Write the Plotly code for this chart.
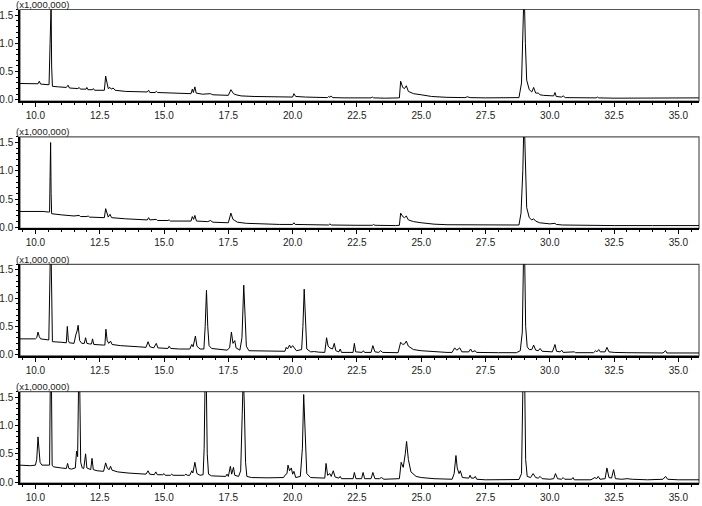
import plotly.graph_objects as go

# four GC-MS total ion chromatograms, stacked
# points are (retention time in min, intensity in x1,000,000 counts)

trace_a = [
    (9.40, 0.29), (9.70, 0.285), (10.00, 0.28), (10.10, 0.285), (10.15, 0.33), (10.20, 0.28),
    (10.45, 0.27), (10.53, 0.27), (10.57, 1.00), (10.59, 1.70), (10.61, 1.70), (10.63, 0.60),
    (10.66, 0.24), (10.90, 0.23), (11.20, 0.22), (11.27, 0.26), (11.32, 0.21), (11.65, 0.20),
    (11.70, 0.22), (11.75, 0.19), (11.97, 0.19), (12.00, 0.22), (12.04, 0.18), (12.22, 0.18),
    (12.25, 0.20), (12.30, 0.17), (12.68, 0.17), (12.73, 0.42), (12.78, 0.30), (12.83, 0.20),
    (12.90, 0.22), (12.95, 0.19), (13.02, 0.21), (13.10, 0.17), (13.50, 0.15), (14.00, 0.14),
    (14.35, 0.14), (14.40, 0.17), (14.45, 0.13), (14.65, 0.13), (14.70, 0.15), (14.75, 0.13),
    (15.20, 0.12), (15.60, 0.11), (16.05, 0.11), (16.10, 0.19), (16.14, 0.13), (16.20, 0.23),
    (16.25, 0.12), (16.50, 0.10), (16.80, 0.11), (16.90, 0.09), (17.50, 0.08), (17.60, 0.18),
    (17.70, 0.11), (17.80, 0.09), (18.00, 0.07), (18.50, 0.06), (19.00, 0.06), (19.50, 0.05),
    (20.00, 0.05), (20.05, 0.11), (20.12, 0.06), (20.50, 0.05), (21.00, 0.045), (21.35, 0.04),
    (21.40, 0.06), (21.45, 0.045), (21.50, 0.07), (21.55, 0.04), (22.00, 0.035), (22.50, 0.035),
    (23.05, 0.035), (23.10, 0.05), (23.15, 0.035), (23.60, 0.03), (24.00, 0.03), (24.15, 0.035),
    (24.20, 0.33), (24.28, 0.22), (24.35, 0.20), (24.42, 0.25), (24.50, 0.15), (24.70, 0.11),
    (25.00, 0.09), (25.40, 0.06), (26.00, 0.045), (26.70, 0.04), (26.80, 0.055), (26.90, 0.04),
    (27.50, 0.035), (28.50, 0.035), (28.80, 0.04), (28.90, 0.30), (28.95, 1.00), (29.00, 2.00),
    (29.05, 1.00), (29.10, 0.35), (29.20, 0.18), (29.30, 0.14), (29.37, 0.22), (29.45, 0.12),
    (29.55, 0.12), (29.62, 0.09), (29.75, 0.08), (30.00, 0.07), (30.15, 0.07), (30.20, 0.13),
    (30.25, 0.06), (30.45, 0.05), (30.52, 0.07), (30.60, 0.04), (31.00, 0.035), (31.80, 0.035),
    (31.85, 0.05), (31.90, 0.035), (32.50, 0.03), (33.50, 0.03), (34.50, 0.03), (35.80, 0.035),
]

trace_b = [
    (9.40, 0.28), (10.00, 0.285), (10.30, 0.28), (10.50, 0.27), (10.55, 0.27), (10.57, 0.90),
    (10.59, 1.50), (10.61, 0.60), (10.63, 0.24), (11.00, 0.22), (11.50, 0.20), (11.70, 0.21),
    (11.75, 0.19), (12.00, 0.19), (12.05, 0.20), (12.10, 0.18), (12.68, 0.17), (12.73, 0.33),
    (12.78, 0.25), (12.83, 0.18), (12.90, 0.23), (12.96, 0.17), (13.50, 0.15), (14.00, 0.14),
    (14.35, 0.13), (14.40, 0.17), (14.45, 0.13), (14.70, 0.14), (14.75, 0.12), (15.15, 0.12),
    (15.20, 0.13), (15.25, 0.11), (15.60, 0.11), (16.05, 0.11), (16.10, 0.19), (16.15, 0.14),
    (16.20, 0.21), (16.26, 0.11), (16.70, 0.10), (16.80, 0.12), (16.90, 0.09), (17.50, 0.08),
    (17.60, 0.25), (17.68, 0.14), (17.75, 0.12), (17.85, 0.09), (18.20, 0.07), (18.60, 0.06),
    (19.50, 0.05), (20.00, 0.05), (20.05, 0.08), (20.10, 0.05), (21.00, 0.045), (21.40, 0.04),
    (21.45, 0.06), (21.50, 0.04), (22.50, 0.035), (23.10, 0.035), (23.15, 0.05), (23.20, 0.035),
    (24.00, 0.03), (24.15, 0.035), (24.20, 0.25), (24.28, 0.19), (24.35, 0.17), (24.42, 0.20),
    (24.50, 0.13), (24.70, 0.10), (25.00, 0.08), (25.50, 0.055), (26.00, 0.045), (26.80, 0.04),
    (26.85, 0.05), (26.90, 0.04), (28.60, 0.035), (28.80, 0.04), (28.88, 0.25), (28.95, 1.00),
    (29.00, 2.00), (29.05, 1.00), (29.10, 0.35), (29.20, 0.17), (29.30, 0.13), (29.37, 0.15),
    (29.45, 0.11), (29.60, 0.08), (30.00, 0.06), (30.20, 0.07), (30.25, 0.05), (30.50, 0.04),
    (31.00, 0.035), (32.50, 0.03), (34.00, 0.03), (35.80, 0.03),
]

trace_c = [
    (9.40, 0.28), (10.00, 0.28), (10.05, 0.30), (10.10, 0.40), (10.15, 0.32), (10.20, 0.28),
    (10.52, 0.26), (10.56, 1.20), (10.58, 1.80), (10.61, 1.80), (10.63, 0.80), (10.66, 0.23),
    (11.00, 0.22), (11.20, 0.21), (11.24, 0.50), (11.28, 0.25), (11.32, 0.21), (11.50, 0.20),
    (11.57, 0.35), (11.62, 0.42), (11.66, 0.52), (11.72, 0.25), (11.80, 0.20), (11.90, 0.20),
    (11.95, 0.30), (12.00, 0.20), (12.10, 0.19), (12.18, 0.19), (12.22, 0.28), (12.27, 0.18),
    (12.65, 0.17), (12.70, 0.17), (12.74, 0.45), (12.79, 0.25), (12.85, 0.20), (12.92, 0.24),
    (12.98, 0.18), (13.30, 0.16), (14.00, 0.14), (14.30, 0.13), (14.38, 0.23), (14.45, 0.14),
    (14.60, 0.12), (14.70, 0.20), (14.76, 0.12), (15.00, 0.11), (15.15, 0.11), (15.20, 0.15),
    (15.26, 0.11), (15.60, 0.10), (16.00, 0.10), (16.08, 0.18), (16.13, 0.14), (16.22, 0.33),
    (16.28, 0.15), (16.40, 0.10), (16.55, 0.10), (16.60, 0.50), (16.65, 1.14), (16.70, 0.50),
    (16.75, 0.16), (16.85, 0.11), (17.20, 0.09), (17.45, 0.08), (17.55, 0.12), (17.62, 0.40),
    (17.68, 0.20), (17.75, 0.25), (17.80, 0.12), (17.95, 0.08), (18.03, 0.30), (18.10, 1.23),
    (18.15, 0.70), (18.20, 0.15), (18.30, 0.07), (18.60, 0.065), (19.00, 0.06), (19.40, 0.055),
    (19.70, 0.06), (19.75, 0.13), (19.80, 0.10), (19.88, 0.17), (19.93, 0.12), (20.00, 0.16),
    (20.06, 0.12), (20.15, 0.07), (20.35, 0.09), (20.40, 0.50), (20.45, 1.16), (20.50, 0.50),
    (20.55, 0.10), (20.70, 0.05), (20.85, 0.055), (21.00, 0.045), (21.25, 0.04), (21.32, 0.30),
    (21.38, 0.15), (21.45, 0.12), (21.55, 0.10), (21.62, 0.20), (21.68, 0.07), (21.80, 0.05),
    (21.85, 0.10), (21.90, 0.04), (22.35, 0.04), (22.40, 0.20), (22.45, 0.05), (22.70, 0.04),
    (22.75, 0.07), (22.80, 0.04), (23.05, 0.04), (23.12, 0.16), (23.20, 0.05), (23.35, 0.04),
    (23.42, 0.07), (23.50, 0.04), (24.10, 0.035), (24.20, 0.22), (24.28, 0.18), (24.35, 0.19),
    (24.42, 0.24), (24.50, 0.15), (24.70, 0.09), (25.00, 0.07), (25.50, 0.05), (26.00, 0.04),
    (26.20, 0.04), (26.30, 0.12), (26.38, 0.08), (26.50, 0.12), (26.58, 0.05), (26.85, 0.05),
    (26.92, 0.10), (26.98, 0.05), (27.10, 0.07), (27.15, 0.04), (28.00, 0.035), (28.70, 0.035),
    (28.85, 0.07), (28.93, 0.40), (28.98, 1.80), (29.02, 1.80), (29.06, 0.50), (29.12, 0.14),
    (29.20, 0.09), (29.30, 0.09), (29.37, 0.17), (29.45, 0.08), (29.55, 0.07), (29.62, 0.11),
    (29.70, 0.06), (30.10, 0.05), (30.20, 0.18), (30.26, 0.06), (30.40, 0.05), (30.46, 0.08),
    (30.52, 0.04), (30.90, 0.04), (30.95, 0.05), (31.00, 0.035), (31.70, 0.035), (31.78, 0.07),
    (31.83, 0.05), (31.90, 0.09), (31.96, 0.05), (32.15, 0.05), (32.22, 0.13), (32.30, 0.05),
    (32.50, 0.04), (33.00, 0.035), (34.40, 0.03), (34.50, 0.07), (34.55, 0.03), (35.80, 0.03),
]

trace_d = [
    (9.40, 0.30), (9.80, 0.29), (10.00, 0.30), (10.05, 0.40), (10.10, 0.80), (10.14, 0.62),
    (10.18, 0.35), (10.25, 0.30), (10.50, 0.29), (10.55, 0.30), (10.58, 1.90), (10.62, 1.90),
    (10.65, 0.30), (10.70, 0.27), (11.00, 0.25), (11.20, 0.24), (11.25, 0.33), (11.30, 0.24),
    (11.40, 0.23), (11.55, 0.25), (11.60, 0.55), (11.64, 0.45), (11.68, 1.80), (11.72, 1.80),
    (11.76, 0.35), (11.82, 0.25), (11.88, 0.24), (11.95, 0.50), (12.00, 0.25), (12.10, 0.22),
    (12.15, 0.22), (12.20, 0.42), (12.25, 0.22), (12.40, 0.20), (12.65, 0.19), (12.73, 0.34),
    (12.80, 0.24), (12.87, 0.22), (12.92, 0.28), (12.98, 0.21), (13.20, 0.18), (13.60, 0.16),
    (14.00, 0.15), (14.30, 0.14), (14.38, 0.20), (14.44, 0.14), (14.62, 0.13), (14.68, 0.18),
    (14.74, 0.13), (14.95, 0.13), (15.00, 0.15), (15.05, 0.12), (15.25, 0.12), (15.30, 0.14),
    (15.35, 0.12), (15.80, 0.12), (15.85, 0.14), (15.90, 0.12), (16.00, 0.12), (16.08, 0.20),
    (16.12, 0.16), (16.20, 0.35), (16.28, 0.15), (16.40, 0.12), (16.52, 0.13), (16.56, 0.60),
    (16.60, 1.90), (16.64, 1.90), (16.68, 0.50), (16.73, 0.14), (16.85, 0.11), (17.20, 0.10),
    (17.40, 0.10), (17.45, 0.14), (17.50, 0.10), (17.58, 0.28), (17.63, 0.14), (17.70, 0.26),
    (17.75, 0.12), (17.90, 0.10), (17.98, 0.20), (18.04, 1.20), (18.08, 1.90), (18.12, 1.40),
    (18.17, 0.35), (18.22, 0.10), (18.40, 0.08), (19.00, 0.075), (19.50, 0.07), (19.65, 0.08),
    (19.70, 0.12), (19.78, 0.15), (19.82, 0.30), (19.88, 0.20), (19.95, 0.25), (20.00, 0.14),
    (20.05, 0.19), (20.12, 0.08), (20.30, 0.10), (20.38, 0.60), (20.43, 1.55), (20.48, 0.80),
    (20.55, 0.15), (20.70, 0.08), (21.00, 0.07), (21.25, 0.07), (21.30, 0.33), (21.36, 0.12),
    (21.45, 0.15), (21.50, 0.10), (21.58, 0.20), (21.65, 0.09), (21.80, 0.07), (21.85, 0.10),
    (21.90, 0.06), (22.35, 0.06), (22.40, 0.17), (22.46, 0.06), (22.68, 0.06), (22.74, 0.17),
    (22.80, 0.06), (23.05, 0.06), (23.12, 0.17), (23.20, 0.06), (23.38, 0.06), (23.45, 0.08),
    (23.55, 0.05), (24.00, 0.05), (24.15, 0.06), (24.22, 0.35), (24.30, 0.26), (24.38, 0.50),
    (24.43, 0.72), (24.50, 0.40), (24.60, 0.18), (24.80, 0.10), (25.00, 0.08), (25.50, 0.06),
    (26.00, 0.05), (26.20, 0.05), (26.28, 0.15), (26.35, 0.47), (26.40, 0.25), (26.47, 0.15),
    (26.52, 0.20), (26.60, 0.08), (26.85, 0.07), (26.90, 0.12), (26.95, 0.07), (27.05, 0.07),
    (27.10, 0.10), (27.16, 0.05), (27.50, 0.04), (28.00, 0.04), (28.50, 0.04), (28.80, 0.045),
    (28.90, 0.15), (28.96, 1.90), (29.02, 1.90), (29.06, 0.40), (29.12, 0.10), (29.25, 0.08),
    (29.35, 0.15), (29.45, 0.08), (29.55, 0.07), (29.62, 0.10), (29.70, 0.06), (30.00, 0.05),
    (30.15, 0.06), (30.22, 0.15), (30.30, 0.06), (30.45, 0.05), (30.52, 0.08), (30.58, 0.05),
    (30.85, 0.05), (30.90, 0.08), (30.95, 0.04), (31.60, 0.04), (31.75, 0.08), (31.82, 0.06),
    (31.88, 0.10), (31.95, 0.05), (32.15, 0.06), (32.22, 0.25), (32.30, 0.08), (32.40, 0.07),
    (32.48, 0.22), (32.55, 0.06), (32.80, 0.05), (33.00, 0.06), (33.20, 0.05), (33.80, 0.04),
    (34.40, 0.05), (34.50, 0.10), (34.58, 0.05), (35.00, 0.04), (35.80, 0.04),
]

panels = [trace_a, trace_b, trace_c, trace_d]
scale_label = "(x1,000,000)"

W, H = 702, 506
X_LEFT, X_RIGHT = 20, 699        # plot area, px
TOP, BOTTOM, STRIP = 9.5, 101, 127.4
FONT = "Liberation Sans, Arial, sans-serif"

fig = go.Figure()

for i, pts in enumerate(panels):
    n = "" if i == 0 else str(i + 1)
    rt, inten = zip(*pts)
    fig.add_trace(go.Scatter(
        x=rt, y=inten, mode="lines",
        line=dict(color="black", width=1),
        xaxis="x" + n, yaxis="y" + n, showlegend=False,
    ))

    top = TOP + i * STRIP
    bot = BOTTOM + i * STRIP
    fig.layout["xaxis" + n] = dict(
        domain=[X_LEFT / W, X_RIGHT / W], anchor="y" + n, automargin=False,
        range=[9.4, 35.8], tick0=10, dtick=2.5, tickformat=".1f",
        ticks="outside", ticklen=4, tickcolor="black",
        minor=dict(dtick=0.5, tick0=10, ticks="outside", ticklen=2, tickcolor="black"),
        showline=True, linecolor="black", linewidth=1.5,
        showgrid=False, zeroline=False,
        tickfont=dict(family=FONT, size=10, color="#222"),
    )
    fig.layout["yaxis" + n] = dict(
        domain=[1 - bot / H, 1 - top / H], anchor="x" + n, automargin=False,
        range=[-0.02, 1.6], tick0=0, dtick=0.5, tickformat=".1f",
        ticks="outside", ticklen=3, tickcolor="black",
        minor=dict(dtick=0.1, tick0=0, ticks="outside", ticklen=2, tickcolor="black"),
        showline=True, linecolor="black", linewidth=1.5,
        showgrid=False, zeroline=False,
        tickfont=dict(family=FONT, size=10, color="#222"),
    )
    # grey frame on top / right
    fig.add_shape(type="rect", xref="x" + n + " domain", yref="y" + n + " domain",
                  x0=0, x1=1, y0=0, y1=1, layer="below",
                  line=dict(color="#555", width=1.2))
    fig.add_annotation(text=scale_label, xref="paper", yref="paper",
                       x=14 / W, y=1 - (top - 5) / H, xanchor="left", yanchor="middle",
                       showarrow=False, font=dict(family=FONT, size=9.5, color="#222"))

fig.update_layout(
    width=W, height=H,
    margin=dict(l=0, r=0, t=0, b=0, autoexpand=False),
    paper_bgcolor="white", plot_bgcolor="white",
)

# the page's default body margin would push the 702x506 figure off the window
fig.write_html(
    "out.html",
    config={"displayModeBar": False},
    post_script="document.body.style.margin='0';document.body.style.overflow='hidden';",
)
